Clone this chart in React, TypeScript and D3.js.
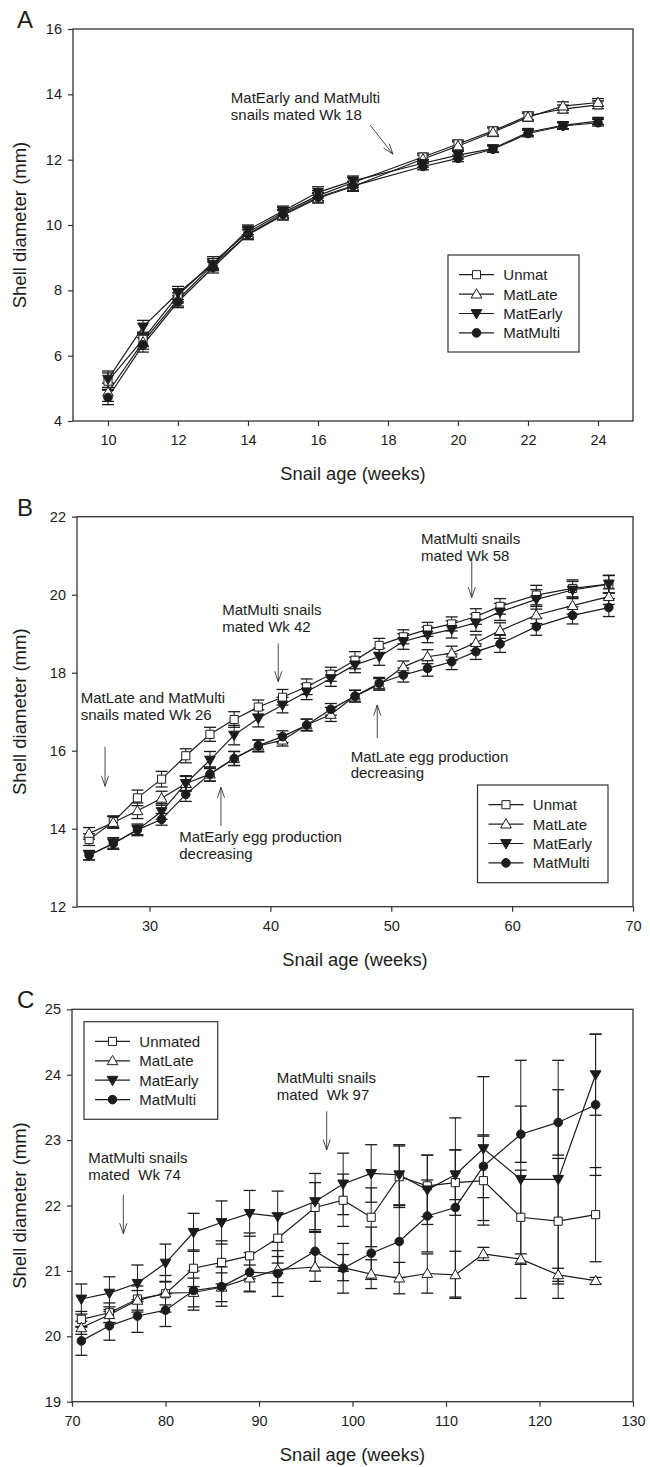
import React, { useEffect, useRef } from 'react';
import * as d3 from 'd3';

// ---- Panel A: weeks 10-24 (wk 18 not measured)
const weeksA = [10, 11, 12, 13, 14, 15, 16, 17, 19, 20, 21, 22, 23, 24];
const unmatA = [5.22, 6.5, 7.85, 8.85, 9.78, 10.38, 10.9, 11.3, 12.08, 12.48, 12.88, 13.34, 13.55, 13.68];
const matLateA = [4.88, 6.42, 7.72, 8.78, 9.7, 10.3, 10.82, 11.18, 12.02, 12.42, 12.84, 13.3, 13.64, 13.75];
const matEarlyA = [5.28, 6.88, 7.92, 8.8, 9.85, 10.43, 11.0, 11.35, 11.89, 12.14, 12.34, 12.84, 13.05, 13.18];
const matMultiA = [4.72, 6.33, 7.65, 8.7, 9.72, 10.33, 10.85, 11.2, 11.79, 12.04, 12.32, 12.8, 13.03, 13.13];
const errUnmatA = [0.25, 0.22, 0.2, 0.18, 0.15, 0.15, 0.15, 0.15, 0.12, 0.12, 0.12, 0.12, 0.12, 0.12];
const errMatLateA = [0.28, 0.22, 0.2, 0.18, 0.15, 0.15, 0.15, 0.15, 0.12, 0.13, 0.13, 0.12, 0.13, 0.12];
const errMatEarlyA = [0.25, 0.2, 0.2, 0.17, 0.15, 0.15, 0.17, 0.15, 0.12, 0.12, 0.1, 0.1, 0.1, 0.1];
const errMatMultiA = [0.22, 0.22, 0.18, 0.17, 0.15, 0.14, 0.14, 0.13, 0.1, 0.1, 0.1, 0.1, 0.1, 0.1];

// ---- Panel B: weeks 25-68
const weeksB = [25, 27, 29, 31, 33, 35, 37, 39, 41, 43, 45, 47, 49, 51, 53, 55, 57, 59, 62, 65, 68];
const unmatB = [13.72, 14.18, 14.79, 15.27, 15.87, 16.42, 16.8, 17.12, 17.37, 17.64, 17.96, 18.32, 18.7, 18.92, 19.11, 19.25, 19.44, 19.7, 19.99, 20.16, 20.27];
const matLateB = [13.88, 14.16, 14.46, 14.78, 15.16, 15.4, 15.8, 16.12, 16.27, 16.66, 16.93, 17.4, 17.7, 18.15, 18.41, 18.5, 18.77, 19.08, 19.48, 19.72, 19.95];
const matEarlyB = [13.32, 13.62, 13.97, 14.44, 15.16, 15.76, 16.4, 16.83, 17.17, 17.51, 17.85, 18.2, 18.41, 18.8, 18.97, 19.11, 19.28, 19.56, 19.88, 20.12, 20.27];
const matMultiB = [13.32, 13.62, 13.97, 14.24, 14.88, 15.4, 15.8, 16.13, 16.36, 16.66, 17.06, 17.4, 17.73, 17.94, 18.11, 18.28, 18.54, 18.74, 19.18, 19.47, 19.67];
const errUnmatB = [0.15, 0.15, 0.2, 0.2, 0.18, 0.18, 0.2, 0.18, 0.2, 0.2, 0.18, 0.22, 0.18, 0.18, 0.18, 0.18, 0.2, 0.2, 0.25, 0.22, 0.22];
const errMatLateB = [0.15, 0.15, 0.2, 0.18, 0.18, 0.18, 0.18, 0.15, 0.15, 0.15, 0.18, 0.15, 0.15, 0.15, 0.18, 0.18, 0.2, 0.2, 0.22, 0.22, 0.2];
const errMatEarlyB = [0.12, 0.15, 0.15, 0.2, 0.2, 0.22, 0.25, 0.22, 0.2, 0.2, 0.2, 0.2, 0.22, 0.2, 0.2, 0.22, 0.22, 0.22, 0.25, 0.22, 0.23];
const errMatMultiB = [0.12, 0.12, 0.12, 0.15, 0.18, 0.18, 0.18, 0.15, 0.15, 0.15, 0.15, 0.15, 0.15, 0.18, 0.2, 0.2, 0.2, 0.22, 0.22, 0.22, 0.23];

// ---- Panel C: weeks 71-126
const weeksC = [71, 74, 77, 80, 83, 86, 89, 92, 96, 99, 102, 105, 108, 111, 114, 118, 122, 126];
const unmatC = [20.26, 20.36, 20.57, 20.65, 21.04, 21.13, 21.23, 21.5, 21.97, 22.08, 21.82, 22.44, 22.3, 22.35, 22.38, 21.82, 21.76, 21.86];
const matLateC = [20.13, 20.33, 20.55, 20.66, 20.67, 20.75, 20.89, 21.02, 21.06, 21.05, 20.95, 20.89, 20.96, 20.94, 21.26, 21.18, 20.94, 20.85];
const matEarlyC = [20.57, 20.66, 20.81, 21.12, 21.59, 21.74, 21.88, 21.83, 22.06, 22.33, 22.49, 22.47, 22.24, 22.47, 22.87, 22.4, 22.4, 24.0];
const matMultiC = [19.93, 20.16, 20.31, 20.4, 20.7, 20.76, 20.98, 20.96, 21.3, 21.04, 21.27, 21.45, 21.84, 21.97, 22.6, 23.09, 23.27, 23.54];
const errUnmatC = [0.12, 0.15, 0.2, 0.28, 0.28, 0.33, 0.35, 0.38, 0.38, 0.4, 0.45, 0.47, 0.47, 0.5, 0.68, 0.72, 0.96, 0.72];
const errMatLateC = [0.1, 0.12, 0.15, 0.18, 0.22, 0.22, 0.2, 0.2, 0.22, 0.2, 0.22, 0.24, 0.3, 0.36, 0.1, 0.08, 0.1, 0.05];
const errMatEarlyC = [0.23, 0.25, 0.28, 0.29, 0.29, 0.33, 0.35, 0.39, 0.43, 0.47, 0.44, 0.46, 0.53, 0.38, 1.1, 1.82, 1.82, 0.62];
const errMatMultiC = [0.22, 0.22, 0.25, 0.25, 0.3, 0.3, 0.3, 0.35, 0.3, 0.38, 0.4, 0.55, 0.55, 1.37, 0.48, 0.43, 0.5, 1.08];

const namesAB = ['Unmat', 'MatLate', 'MatEarly', 'MatMulti'];
const namesC = ['Unmated', 'MatLate', 'MatEarly', 'MatMulti'];
const markerTypes = ['square', 'triangleUp', 'triangleDown', 'circle'];

// annotations: [week, value] of first text line, arrow from/to in data units
const notesA = [
  { lines: ['MatEarly and MatMulti', 'snails mated Wk 18'], at: [13.51, 13.73], arrow: [[17.49, 13.06], [18.14, 12.17]] },
];
const notesB = [
  { lines: ['MatMulti snails', 'mated Wk 58'], at: [52.46, 21.3], arrow: [[56.66, 20.93], [56.66, 19.93]] },
  { lines: ['MatMulti snails', 'mated Wk 42'], at: [36.02, 19.48], arrow: [[40.65, 18.75], [40.65, 17.77]] },
  { lines: ['MatLate and MatMulti', 'snails mated Wk 26'], at: [24.31, 17.23], arrow: [[26.32, 16.1], [26.32, 15.09]] },
  { lines: ['MatEarly egg production', 'decreasing'], at: [32.46, 13.65], arrow: [[35.91, 14.07], [35.91, 15.06]] },
  { lines: ['MatLate egg production', 'decreasing'], at: [46.64, 15.72], arrow: [[48.84, 16.32], [48.84, 17.17]] },
];
const notesC = [
  { lines: ['MatMulti snails', 'mated  Wk 97'], at: [91.9, 23.87], arrow: [[97.24, 23.44], [97.24, 22.85]] },
  { lines: ['MatMulti snails', 'mated  Wk 74'], at: [71.74, 22.65], arrow: [[75.49, 22.16], [75.49, 21.57]] },
];

const FONT = '"Liberation Sans", Arial, Helvetica, sans-serif';
const INK = '#1c1c1c';

const panels = [
  {
    label: 'A', left: 73, right: 633, top: 29, bottom: 421,
    xDomain: [9, 25], yDomain: [4, 16], xTicks: [10, 12, 14, 16, 18, 20, 22, 24], yTicks: [4, 6, 8, 10, 12, 14, 16],
    weeks: weeksA, values: [unmatA, matLateA, matEarlyA, matMultiA], errs: [errUnmatA, errMatLateA, errMatEarlyA, errMatMultiA],
    names: namesAB, legend: { x: 448, y: 255, w: 131, h: 97 }, notes: notesA,
  },
  {
    label: 'B', left: 77, right: 633, top: 516.7, bottom: 906.7,
    xDomain: [24, 70], yDomain: [12, 22], xTicks: [30, 40, 50, 60, 70], yTicks: [12, 14, 16, 18, 20, 22],
    weeks: weeksB, values: [unmatB, matLateB, matEarlyB, matMultiB], errs: [errUnmatB, errMatLateB, errMatEarlyB, errMatMultiB],
    names: namesAB, legend: { x: 477.5, y: 785, w: 130.5, h: 97.7 }, notes: notesB,
  },
  {
    label: 'C', left: 72, right: 633, top: 1009.3, bottom: 1401.7,
    xDomain: [70, 130], yDomain: [19, 25], xTicks: [70, 80, 90, 100, 110, 120, 130], yTicks: [19, 20, 21, 22, 23, 24, 25],
    weeks: weeksC, values: [unmatC, matLateC, matEarlyC, matMultiC], errs: [errUnmatC, errMatLateC, errMatEarlyC, errMatMultiC],
    names: namesC, legend: { x: 84, y: 1021.7, w: 133.7, h: 97.6 }, notes: notesC,
  },
];

const symbolFor = (type) => {
  if (type === 'square') return d3.symbol().type(d3.symbolSquare).size(66)();
  if (type === 'circle') return d3.symbol().type(d3.symbolCircle).size(58)();
  return d3.symbol().type(d3.symbolTriangle).size(50)();
};

const drawMarker = (g, type, x, y) => {
  const filled = type === 'triangleDown' || type === 'circle';
  const rot = type === 'triangleDown' ? ' rotate(180)' : '';
  const dy = type === 'triangleUp' ? 0.8 : type === 'triangleDown' ? -0.8 : 0;
  g.append('path')
    .attr('d', symbolFor(type))
    .attr('transform', `translate(${x},${y + dy})${rot}`)
    .attr('fill', filled ? INK : '#fff')
    .attr('stroke', INK)
    .attr('stroke-width', 1);
};

const drawArrow = (g, x1, y1, x2, y2) => {
  g.append('line').attr('x1', x1).attr('y1', y1).attr('x2', x2).attr('y2', y2)
    .attr('stroke', INK).attr('stroke-width', 0.8);
  const ang = Math.atan2(y2 - y1, x2 - x1);
  const len = 11, spread = 0.33;
  [ang + Math.PI - spread, ang + Math.PI + spread].forEach(a => {
    g.append('line').attr('x1', x2).attr('y1', y2)
      .attr('x2', x2 + len * Math.cos(a)).attr('y2', y2 + len * Math.sin(a))
      .attr('stroke', INK).attr('stroke-width', 0.8);
  });
};

const Chart = () => {
  const svgRef = useRef(null);

  useEffect(() => {
    svgRef.current.innerHTML = '';
    const svg = d3.select(svgRef.current);

    panels.forEach(p => {
      const g = svg.append('g');
      const x = d3.scaleLinear().domain(p.xDomain).range([p.left, p.right]);
      const y = d3.scaleLinear().domain(p.yDomain).range([p.bottom, p.top]);

      // frame
      g.append('rect')
        .attr('x', p.left).attr('y', p.top)
        .attr('width', p.right - p.left).attr('height', p.bottom - p.top)
        .attr('fill', 'none').attr('stroke', '#333').attr('stroke-width', 1.3);

      // axes
      const yAxis = g.append('g').attr('transform', `translate(${p.left},0)`)
        .call(d3.axisLeft(y).tickValues(p.yTicks).tickSize(5).tickPadding(6).tickFormat(d3.format('d')));
      const xAxis = g.append('g').attr('transform', `translate(0,${p.bottom})`)
        .call(d3.axisBottom(x).tickValues(p.xTicks).tickSize(5).tickPadding(9).tickFormat(d3.format('d')));
      [yAxis, xAxis].forEach(a => {
        a.select('.domain').remove();
        a.selectAll('line').attr('stroke', '#333').attr('stroke-width', 1.2);
        a.selectAll('text').attr('font-family', FONT).attr('font-size', 14.5).attr('fill', INK);
      });

      // titles
      g.append('text').text(p.label)
        .attr('x', 17).attr('y', p.top - 1)
        .attr('font-family', FONT).attr('font-size', 24).attr('fill', INK);
      g.append('text').text('Snail age (weeks)')
        .attr('x', (p.left + p.right) / 2).attr('y', p.bottom + 59)
        .attr('text-anchor', 'middle')
        .attr('font-family', FONT).attr('font-size', 18.3).attr('fill', INK);
      g.append('text').text('Shell diameter (mm)')
        .attr('transform', `translate(26,${(p.top + p.bottom) / 2}) rotate(-90)`)
        .attr('text-anchor', 'middle')
        .attr('font-family', FONT).attr('font-size', 18.5).attr('fill', INK);

      // error bars
      p.values.forEach((vals, si) => {
        vals.forEach((v, i) => {
          const e = p.errs[si][i];
          const cx = x(p.weeks[i]);
          const y0 = y(v - e), y1 = y(v + e);
          g.append('line').attr('x1', cx).attr('x2', cx).attr('y1', y0).attr('y2', y1)
            .attr('stroke', INK).attr('stroke-width', 1);
          [y0, y1].forEach(yy => g.append('line')
            .attr('x1', cx - 6).attr('x2', cx + 6).attr('y1', yy).attr('y2', yy)
            .attr('stroke', INK).attr('stroke-width', 1.3));
        });
      });

      // lines
      const line = d3.line().x(d => x(d[0])).y(d => y(d[1]));
      p.values.forEach(vals => {
        g.append('path')
          .attr('d', line(vals.map((v, i) => [p.weeks[i], v])))
          .attr('fill', 'none').attr('stroke', INK).attr('stroke-width', 1.2);
      });

      // markers
      p.values.forEach((vals, si) => {
        vals.forEach((v, i) => drawMarker(g, markerTypes[si], x(p.weeks[i]), y(v)));
      });

      // legend
      const lg = p.legend;
      g.append('rect').attr('x', lg.x).attr('y', lg.y).attr('width', lg.w).attr('height', lg.h)
        .attr('fill', '#fff').attr('stroke', '#333').attr('stroke-width', 1.2);
      p.names.forEach((name, i) => {
        const ry = lg.y + 19.7 + i * 19.4;
        g.append('line').attr('x1', lg.x + 11).attr('x2', lg.x + 46).attr('y1', ry).attr('y2', ry)
          .attr('stroke', INK).attr('stroke-width', 1.2);
        drawMarker(g, markerTypes[i], lg.x + 28.5, ry);
        g.append('text').text(name)
          .attr('x', lg.x + 55.3).attr('y', ry + 5.5)
          .attr('font-family', FONT).attr('font-size', 15).attr('fill', INK);
      });

      // annotations
      p.notes.forEach(n => {
        const t = g.append('text')
          .attr('font-family', FONT).attr('font-size', 15).attr('fill', INK)
          .style('white-space', 'pre');
        n.lines.forEach((ln, k) => {
          t.append('tspan').text(ln)
            .attr('x', x(n.at[0])).attr('y', y(n.at[1]) + k * 16.8);
        });
        const [[ax, ay], [bx, by]] = n.arrow;
        drawArrow(g, x(ax), y(ay), x(bx), y(by));
      });
    });
  }, []);

  return (
    <svg ref={svgRef} width={650} height={1467}
      style={{ position: 'absolute', left: 0, top: 0, background: '#fff' }} />
  );
};

export default function App() {
  return <Chart />;
}
